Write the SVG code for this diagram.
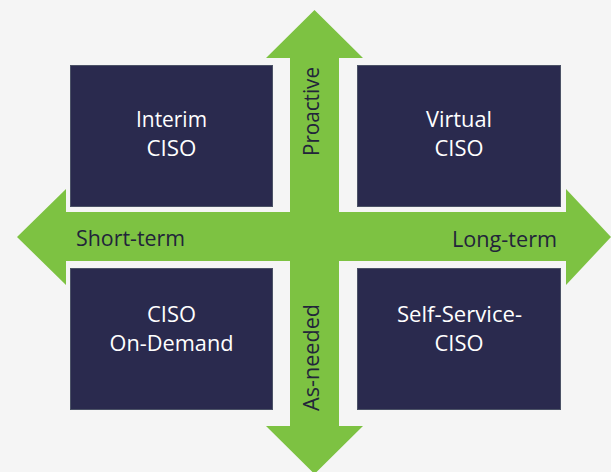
<svg xmlns="http://www.w3.org/2000/svg" width="611" height="472" viewBox="0 0 611 472">
<style>
.box{fill:#2a2a4e;stroke:#4b5266;stroke-width:1}
.bt{font-family:"Open Sans","Noto Sans",sans-serif;font-size:22px;fill:#ffffff;text-anchor:middle}
.at{font-family:"Open Sans","Noto Sans",sans-serif;font-size:22px;fill:#22243a}
.arrow{fill:#7dc242}
</style>
<rect x="0" y="0" width="611" height="472" fill="#f5f5f5"/>
<g id="connectors">
<polygon class="arrow" points="314.5,10 363,58 339,58 339,212 566,212 566,189 611,237 566,285 566,261 339,261 339,426 363,426 314.5,474 266,426 290,426 290,261 66,261 66,285 17,237 66,189 66,212 290,212 290,58 266,58"/>
<text class="at" x="76" y="246" textLength="109" lengthAdjust="spacingAndGlyphs">Short-term</text>
<text class="at" x="452" y="247" textLength="105" lengthAdjust="spacingAndGlyphs">Long-term</text>
<text class="at" transform="translate(319,156) rotate(-90)" x="0" y="0" textLength="89" lengthAdjust="spacingAndGlyphs">Proactive</text>
<text class="at" transform="translate(319,411) rotate(-90)" x="0" y="0" textLength="107" lengthAdjust="spacingAndGlyphs">As-needed</text>
</g>
<g id="interim">
<rect class="box" x="70.5" y="65.5" width="202" height="141"/>
<text class="bt" x="171.5" y="127" textLength="71" lengthAdjust="spacingAndGlyphs">Interim</text>
<text class="bt" x="171.5" y="156" textLength="50" lengthAdjust="spacingAndGlyphs">CISO</text>
</g>
<g id="virtual">
<rect class="box" x="357.5" y="65.5" width="203" height="141"/>
<text class="bt" x="459" y="127" textLength="66" lengthAdjust="spacingAndGlyphs">Virtual</text>
<text class="bt" x="459" y="156" textLength="49" lengthAdjust="spacingAndGlyphs">CISO</text>
</g>
<g id="on-demand">
<rect class="box" x="70.5" y="268.5" width="202" height="141"/>
<text class="bt" x="171.5" y="322" textLength="49" lengthAdjust="spacingAndGlyphs">CISO</text>
<text class="bt" x="171.5" y="351" textLength="124" lengthAdjust="spacingAndGlyphs">On-Demand</text>
</g>
<g id="self-service">
<rect class="box" x="357.5" y="268.5" width="203" height="141"/>
<text class="bt" x="459.5" y="322" textLength="125" lengthAdjust="spacingAndGlyphs">Self-Service-</text>
<text class="bt" x="459" y="351" textLength="49" lengthAdjust="spacingAndGlyphs">CISO</text>
</g>
</svg>
